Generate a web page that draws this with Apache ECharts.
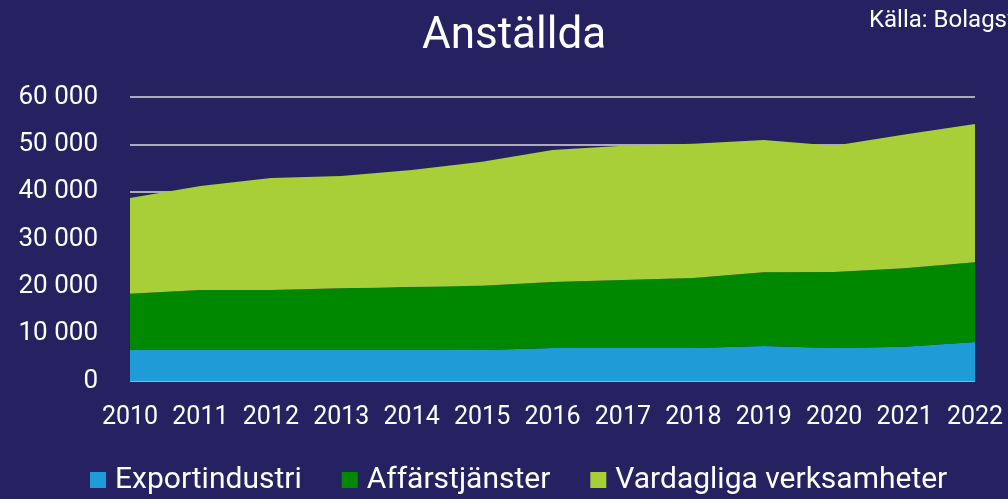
<!DOCTYPE html>
<html>
<head>
<meta charset="utf-8">
<script src="https://cdn.jsdelivr.net/npm/echarts@6/dist/echarts.min.js"></script>
<style>
  html,body{margin:0;padding:0;background:#262262;}
  #chart{width:1008px;height:499px;}
</style>
</head>
<body>
<div id="chart"></div>
<script>
var years=['2010','2011','2012','2013','2014','2015','2016','2017','2018','2019','2020','2021','2022'];
var exportindustri=[6600,6600,6600,6600,6600,6550,6950,6950,6950,7400,6950,7250,8250];
var affarstjanster=[11850,12630,12630,12980,13330,13590,13970,14390,14810,15560,16080,16550,16830];
var vardagliga=[20210,21970,23670,23720,24670,26160,27880,28360,28380,27940,26670,28300,29220];
var FONT='Roboto';

var myChart=echarts.init(document.getElementById('chart'));

function mkSeries(name,data,color){
    return {
        name:name,
        type:'line',
        stack:'tot',
        data:data,
        symbol:'none',
        lineStyle:{width:0},
        areaStyle:{color:color,opacity:1},
        itemStyle:{color:color}
    };
}

var option={
    backgroundColor:'#262262',
    animation:false,
    textStyle:{fontFamily:FONT},
    title:{
        text:'Anställda',
        left:417,
        top:10,
        textStyle:{color:'#fff',fontSize:44,fontWeight:'normal',fontFamily:FONT}
    },
    graphic:[{
        type:'text',
        left:869,
        top:9,
        style:{text:'Källa: Bolagsverket',fill:'#fff',font:'24px '+FONT}
    }],
    legend:{
        left:90,
        top:465,
        padding:0,
        icon:'rect',
        itemWidth:16,
        itemHeight:16,
        itemGap:40,
        textStyle:{color:'#fff',fontSize:30,fontFamily:FONT,padding:[0,0,0,4]},
        data:['Exportindustri','Affärstjänster','Vardagliga verksamheter']
    },
    grid:{left:130,right:33,top:97,bottom:118},
    xAxis:{
        type:'category',
        data:years,
        boundaryGap:false,
        axisLine:{show:false},
        axisTick:{show:false},
        axisLabel:{color:'#fff',fontSize:25,margin:24,interval:0,fontFamily:FONT}
    },
    yAxis:{
        type:'value',
        min:0,
        max:60000,
        interval:10000,
        axisLine:{show:false},
        axisTick:{show:false},
        splitLine:{lineStyle:{color:'#d9d9d9',width:1.5}},
        axisLabel:{
            color:'#fff',fontSize:26,margin:32,fontFamily:FONT,
            formatter:function(v){return String(v).replace(/\B(?=(\d{3})+(?!\d))/g,' ');}
        }
    },
    series:[
        mkSeries('Exportindustri',exportindustri,'#1e9cd7'),
        mkSeries('Affärstjänster',affarstjanster,'#008800'),
        mkSeries('Vardagliga verksamheter',vardagliga,'#a8ce38')
    ]
};
myChart.setOption(option);
</script>
</body>
</html>
